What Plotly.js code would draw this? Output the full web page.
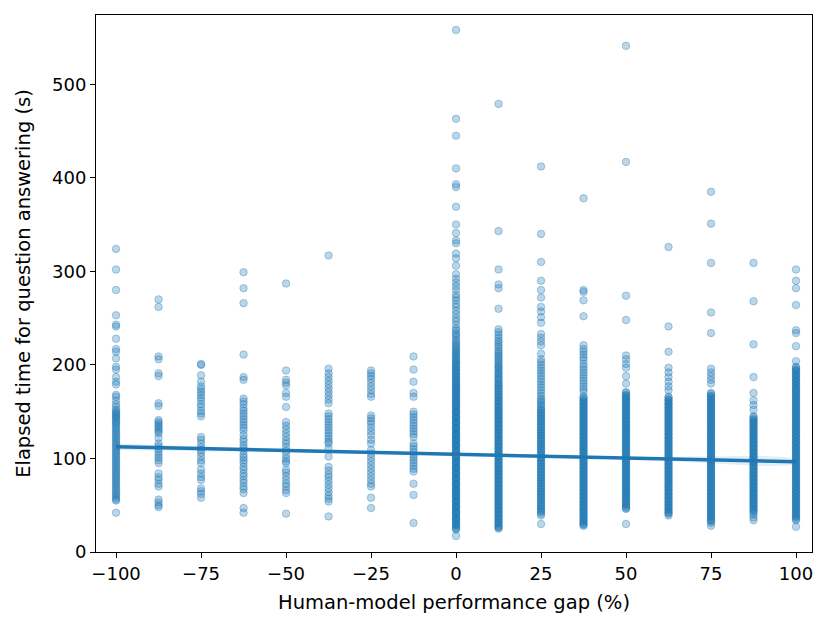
<!DOCTYPE html>
<html>
<head>
<meta charset="utf-8">
<script src="https://cdn.plot.ly/plotly-3.0.1.min.js"></script>
<style>
  html, body { margin: 0; padding: 0; background: #fff; }
  #chart { width: 831px; height: 628px; }
</style>
</head>
<body>
<div id="chart"></div>
<script>
// Human-model performance gap levels (%)
const gapLevels = [-100, -87.5, -75, -62.5, -50, -37.5, -25, -12.5, 0, 12.5, 25, 37.5, 50, 62.5, 75, 87.5, 100];

// Elapsed time (s) per gap level
const timeGapM100 = [324, 302, 280, 253, 243, 241, 228, 217, 214, 207, 198, 195, 187, 182, 179,
  168, 166, 162, 158, 155, 152, 150, 149, 147, 146, 144, 143, 141, 139, 138, 136, 134, 132, 130, 128,
  126, 124, 122, 120, 118, 116, 114, 112, 110, 108, 106, 104, 102, 100, 98, 96, 94, 92, 90, 88, 86,
  84, 82, 80, 78, 76, 74, 72, 70, 68, 66, 64, 62, 60, 58, 56, 55, 42];
const timeGapM875 = [270, 262, 209, 206, 191, 188, 159, 156, 141, 139, 137, 135, 133, 131, 129, 127,
  122, 116, 113, 110, 107, 104, 101, 98, 95, 84, 80, 77, 73, 70, 56, 53, 50, 48];
const timeGapM75 = [201, 200, 189, 182, 177, 174, 171, 168, 165, 162, 158, 155, 151, 148, 145, 123,
  120, 116, 112, 109, 106, 102, 98, 95, 88, 84, 80, 77, 68, 65, 62, 58];
const timeGapM625 = [299, 282, 266, 211, 187, 184, 164, 161, 158, 154, 151, 148, 145, 142, 139, 136,
  133, 130, 125, 121, 118, 114, 111, 108, 104, 101, 98, 95, 91, 88, 84, 81, 77, 74, 70, 67, 63, 47, 42];
const timeGapM50 = [287, 194, 184, 181, 178, 170, 166, 155, 139, 135, 131, 127, 123, 119, 116, 112,
  108, 104, 100, 97, 95, 88, 85, 81, 77, 73, 70, 66, 63, 41];
const timeGapM375 = [317, 196, 191, 187, 183, 179, 175, 171, 167, 163, 159, 148, 145, 142, 139, 136,
  133, 130, 127, 124, 121, 118, 116, 111, 102, 91, 87, 83, 80, 76, 72, 68, 64, 60, 57, 54, 38];
const timeGapM25 = [194, 191, 188, 185, 181, 177, 173, 169, 166, 146, 143, 140, 137, 133, 129, 125,
  120, 116, 109, 105, 101, 97, 93, 89, 85, 81, 77, 73, 70, 58, 47];
const timeGapM125 = [209, 195, 182, 170, 166, 150, 147, 144, 141, 138, 135, 132, 129, 126, 123, 116,
  113, 110, 107, 104, 101, 98, 95, 92, 89, 86, 73, 61, 31];
const timeGap0 = [558, 463, 445, 410, 393, 390, 369, 350, 341, 333, 330, 319, 314, 306, 297, 292, 288,
  284, 280, 275, 272, 269, 265, 262, 258, 254, 250, 247, 243,
  239, 237, 234, 232, 230, 227, 225, 223, 221, 219, 217, 216, 214, 212, 211, 209, 207, 206, 204, 203,
  201, 200, 198, 197, 195, 194, 193, 191, 190, 188, 187, 186, 184, 183, 182, 180, 179, 178, 176, 175,
  174, 173, 171, 170, 169, 167, 166, 165, 164, 162, 161, 160, 159, 157, 156, 155, 154, 152, 151, 150,
  149, 148, 146, 145, 144, 143, 142, 140, 139, 138, 137, 136, 134, 133, 132, 131, 130, 128, 127, 126,
  125, 124, 122, 121, 120, 119, 118, 116, 115, 114, 113, 112, 110, 109, 108, 107, 106, 104, 103, 102,
  101, 100, 98, 97, 96, 95, 94, 92, 91, 90, 89, 88, 86, 85, 84, 83, 82, 80, 79, 78, 77, 76, 74, 73,
  72, 71, 70, 68, 67, 66, 65, 64, 62, 61, 60, 59, 58, 56, 55, 54, 53, 52, 50, 49, 48, 47, 46, 44, 43,
  42, 41, 40, 38, 37, 36, 35, 34, 32, 31, 30, 29, 28, 26, 25, 24, 17];
const timeGap125 = [479, 343, 302, 286, 282, 260,
  238, 235, 232, 229, 226, 224, 221, 219, 216, 214, 212, 210, 208, 206, 204, 202, 200, 198, 197, 195,
  193, 191, 190, 188, 186, 185, 183, 181, 180, 178, 177, 175, 174, 172, 171, 169, 168, 166, 165, 163,
  162, 161, 159, 158, 156, 155, 154, 152, 151, 150, 148, 147, 146, 144, 143, 142, 140, 139, 138, 136,
  135, 134, 132, 131, 130, 128, 127, 126, 124, 123, 122, 120, 119, 118, 116, 115, 114, 112, 111, 110,
  108, 107, 106, 104, 103, 102, 100, 99, 98, 96, 95, 94, 92, 91, 90, 88, 87, 86, 84, 83, 82, 80, 79,
  78, 76, 75, 74, 72, 71, 70, 68, 67, 66, 64, 63, 62, 60, 59, 58, 56, 55, 54, 52, 51, 50, 48, 47, 46,
  44, 43, 42, 40, 39, 38, 36, 35, 34, 32, 31, 30, 28, 27, 26, 25];
const timeGap25 = [412, 340, 310, 290, 280, 272, 262, 257, 251, 245, 233, 229, 225, 221, 212,
  206, 203, 200, 197, 194, 191, 188, 185, 182, 179, 176, 173, 170, 167,
  164, 162, 160, 158, 156, 154, 152, 151, 149, 148, 146, 145, 143, 142, 140, 139, 137, 136, 134, 133,
  131, 130, 128, 127, 125, 124, 122, 121, 119, 118, 116, 115, 113, 112, 110, 109, 107, 106, 104, 103,
  101, 100, 98, 97, 95, 94, 92, 91, 89, 88, 86, 85, 83, 82, 80, 79, 77, 76, 74, 73, 71, 70, 68, 67,
  65, 64, 62, 61, 59, 58, 56, 55, 53, 52, 50, 49, 47, 46, 44, 43, 41, 39, 30];
const timeGap375 = [378, 280, 278, 269, 252,
  221, 217, 214, 211, 208, 205, 201, 198, 195, 192, 189, 186, 183, 180, 177, 174, 171,
  166, 165, 163, 162, 161, 159, 158, 157, 155, 154, 153, 151, 150, 149, 147, 146, 145, 143, 142, 141,
  139, 138, 137, 135, 134, 133, 131, 130, 129, 127, 126, 125, 123, 122, 121, 119, 118, 117, 115, 114,
  113, 111, 110, 109, 107, 106, 105, 103, 102, 101, 99, 98, 97, 95, 94, 93, 91, 90, 89, 87, 86, 85,
  83, 82, 81, 79, 78, 77, 75, 74, 73, 71, 70, 69, 67, 66, 65, 63, 62, 61, 59, 58, 57, 55, 54, 53, 51,
  50, 49, 47, 46, 45, 43, 42, 41, 39, 38, 37, 35, 34, 33, 31, 30, 29, 28];
const timeGap50 = [541, 417, 274, 248, 210, 206, 201, 197, 188, 180,
  171, 170, 168, 167, 166, 164, 163, 162, 160, 159, 158, 156, 155, 154, 152, 151, 150, 148, 147, 146,
  144, 143, 142, 140, 139, 138, 136, 135, 134, 132, 131, 130, 128, 127, 126, 124, 123, 122, 120, 119,
  118, 116, 115, 114, 112, 111, 110, 108, 107, 106, 104, 103, 102, 100, 99, 98, 96, 95, 94, 92, 91,
  90, 88, 87, 86, 84, 83, 82, 80, 79, 78, 76, 75, 74, 72, 71, 70, 68, 67, 66, 64, 63, 62, 60, 59, 58,
  56, 55, 54, 52, 51, 50, 48, 47, 46, 30];
const timeGap625 = [326, 241, 214, 197, 192, 187, 182, 177, 173,
  166, 165, 163, 162, 161, 159, 158, 157, 155, 154, 153, 151, 150, 149, 147, 146, 145, 143, 142, 141,
  139, 138, 137, 135, 134, 133, 131, 130, 129, 127, 126, 125, 123, 122, 121, 119, 118, 117, 115, 114,
  113, 111, 110, 109, 107, 106, 105, 103, 102, 101, 99, 98, 97, 95, 94, 93, 91, 90, 89, 87, 86, 85,
  83, 82, 81, 79, 78, 77, 75, 74, 73, 71, 70, 69, 67, 66, 65, 63, 62, 61, 59, 58, 57, 55, 54, 53, 51,
  50, 49, 47, 46, 45, 43, 42, 41, 39];
const timeGap75 = [385, 351, 309, 256, 234, 196, 192, 188, 184, 180,
  170, 169, 167, 166, 165, 163, 162, 161, 159, 158, 157, 155, 154, 153, 151, 150, 149, 147, 146, 145,
  143, 142, 141, 139, 138, 137, 135, 134, 133, 131, 130, 129, 127, 126, 125, 123, 122, 121, 119, 118,
  117, 115, 114, 113, 111, 110, 109, 107, 106, 105, 103, 102, 101, 99, 98, 97, 95, 94, 93, 91, 90, 89,
  87, 86, 85, 83, 82, 81, 79, 78, 77, 75, 74, 73, 71, 70, 69, 67, 66, 65, 63, 62, 61, 59, 58, 57, 55,
  54, 53, 51, 50, 49, 47, 46, 45, 43, 42, 41, 39, 38, 37, 35, 34, 33, 31, 28];
const timeGap875 = [309, 268, 222, 187, 170, 162, 157, 152,
  145, 144, 142, 141, 140, 138, 137, 136, 134, 133, 132, 130, 129, 128, 126, 125, 124, 122, 121, 120,
  118, 117, 116, 114, 113, 112, 110, 109, 108, 106, 105, 104, 102, 101, 100, 98, 97, 96, 94, 93, 92,
  90, 89, 88, 86, 85, 84, 82, 81, 80, 78, 77, 76, 74, 73, 72, 70, 69, 68, 66, 65, 64, 62, 61, 60, 58,
  57, 56, 54, 53, 52, 50, 49, 48, 46, 45, 44, 42, 40, 37, 34];
const timeGap100 = [302, 290, 282, 264, 237, 234, 220, 204,
  198, 197, 195, 194, 193, 191, 190, 189, 187, 186, 185, 183, 182, 181, 179, 178, 177, 175, 174, 173,
  171, 170, 169, 167, 166, 165, 163, 162, 161, 159, 158, 157, 155, 154, 153, 151, 150, 149, 147, 146,
  145, 143, 142, 141, 139, 138, 137, 135, 134, 133, 131, 130, 129, 127, 126, 125, 123, 122, 121, 119,
  118, 117, 115, 114, 113, 111, 110, 109, 107, 106, 105, 103, 102, 101, 99, 98, 97, 95, 94, 93, 91,
  90, 89, 87, 86, 85, 83, 82, 81, 79, 78, 77, 75, 74, 73, 71, 70, 69, 67, 66, 65, 63, 62, 61, 59, 58,
  57, 55, 54, 53, 51, 50, 49, 47, 46, 45, 43, 42, 41, 39, 38, 37, 35, 34, 27];

// Linear fit and its confidence band
const fitGap = [-100, -50, 0, 50, 100];
const fitTime = [112.5, 108.5, 104.5, 100.5, 96.5];
const fitUpper = [116.0, 110.3, 105.6, 101.7, 98.5];
const fitLower = [109.0, 106.7, 103.4, 99.3, 94.5];

const xTicks = [-100, -75, -50, -25, 0, 25, 50, 75, 100];
const yTicks = [0, 100, 200, 300, 400, 500];

const timeColumns = [timeGapM100, timeGapM875, timeGapM75, timeGapM625, timeGapM50, timeGapM375,
  timeGapM25, timeGapM125, timeGap0, timeGap125, timeGap25, timeGap375, timeGap50, timeGap625,
  timeGap75, timeGap875, timeGap100];

const blue = "#1f77b4";
const xs = [];
const ys = [];
timeColumns.forEach((col, i) => {
  col.forEach((t) => {
    xs.push(gapLevels[i]);
    ys.push(t);
  });
});

const daten = [
  {
    x: xs,
    y: ys,
    type: "scatter",
    mode: "markers",
    marker: {
      size: 7.5,
      color: "rgba(31,119,180,0.3)",
      line: { color: "rgba(31,119,180,0.35)", width: 1 },
    },
    hoverinfo: "x+y",
    showlegend: false,
  },
  {
    x: fitGap.concat(fitGap.slice().reverse()),
    y: fitUpper.concat(fitLower.slice().reverse()),
    type: "scatter",
    mode: "none",
    fill: "toself",
    fillcolor: "rgba(31,119,180,0.12)",
    line: { width: 0, shape: "spline" },
    hoverinfo: "skip",
    showlegend: false,
  },
  {
    x: fitGap,
    y: fitTime,
    type: "scatter",
    mode: "lines",
    line: { color: blue, width: 3.5 },
    hoverinfo: "skip",
    showlegend: false,
  },
];

const achse = {
  showline: true,
  mirror: true,
  linecolor: "#000",
  linewidth: 1,
  ticks: "outside",
  ticklen: 5,
  tickwidth: 1,
  tickcolor: "#000",
  showgrid: false,
  zeroline: false,
  tickfont: { family: "DejaVu Sans", size: 18, color: "#000" },
};

const layout = {
  width: 831,
  height: 628,
  margin: { t: 15, r: 19, b: 76, l: 96 },
  paper_bgcolor: "#fff",
  plot_bgcolor: "#fff",
  font: { family: "DejaVu Sans", color: "#000" },
  xaxis: {
    ...achse,
    range: [-105.9, 104.7],
    tickvals: xTicks,
    title: { text: "Human-model performance gap (%)", font: { family: "DejaVu Sans", size: 19.5 }, standoff: 12 },
  },
  yaxis: {
    ...achse,
    range: [0, 574],
    tickvals: yTicks,
    title: { text: "Elapsed time for question answering (s)", font: { family: "DejaVu Sans", size: 19.5 }, standoff: 16 },
  },
  hovermode: "closest",
  showlegend: false,
};

Plotly.newPlot("chart", daten, layout, { displayModeBar: false, staticPlot: true });
</script>
</body>
</html>
